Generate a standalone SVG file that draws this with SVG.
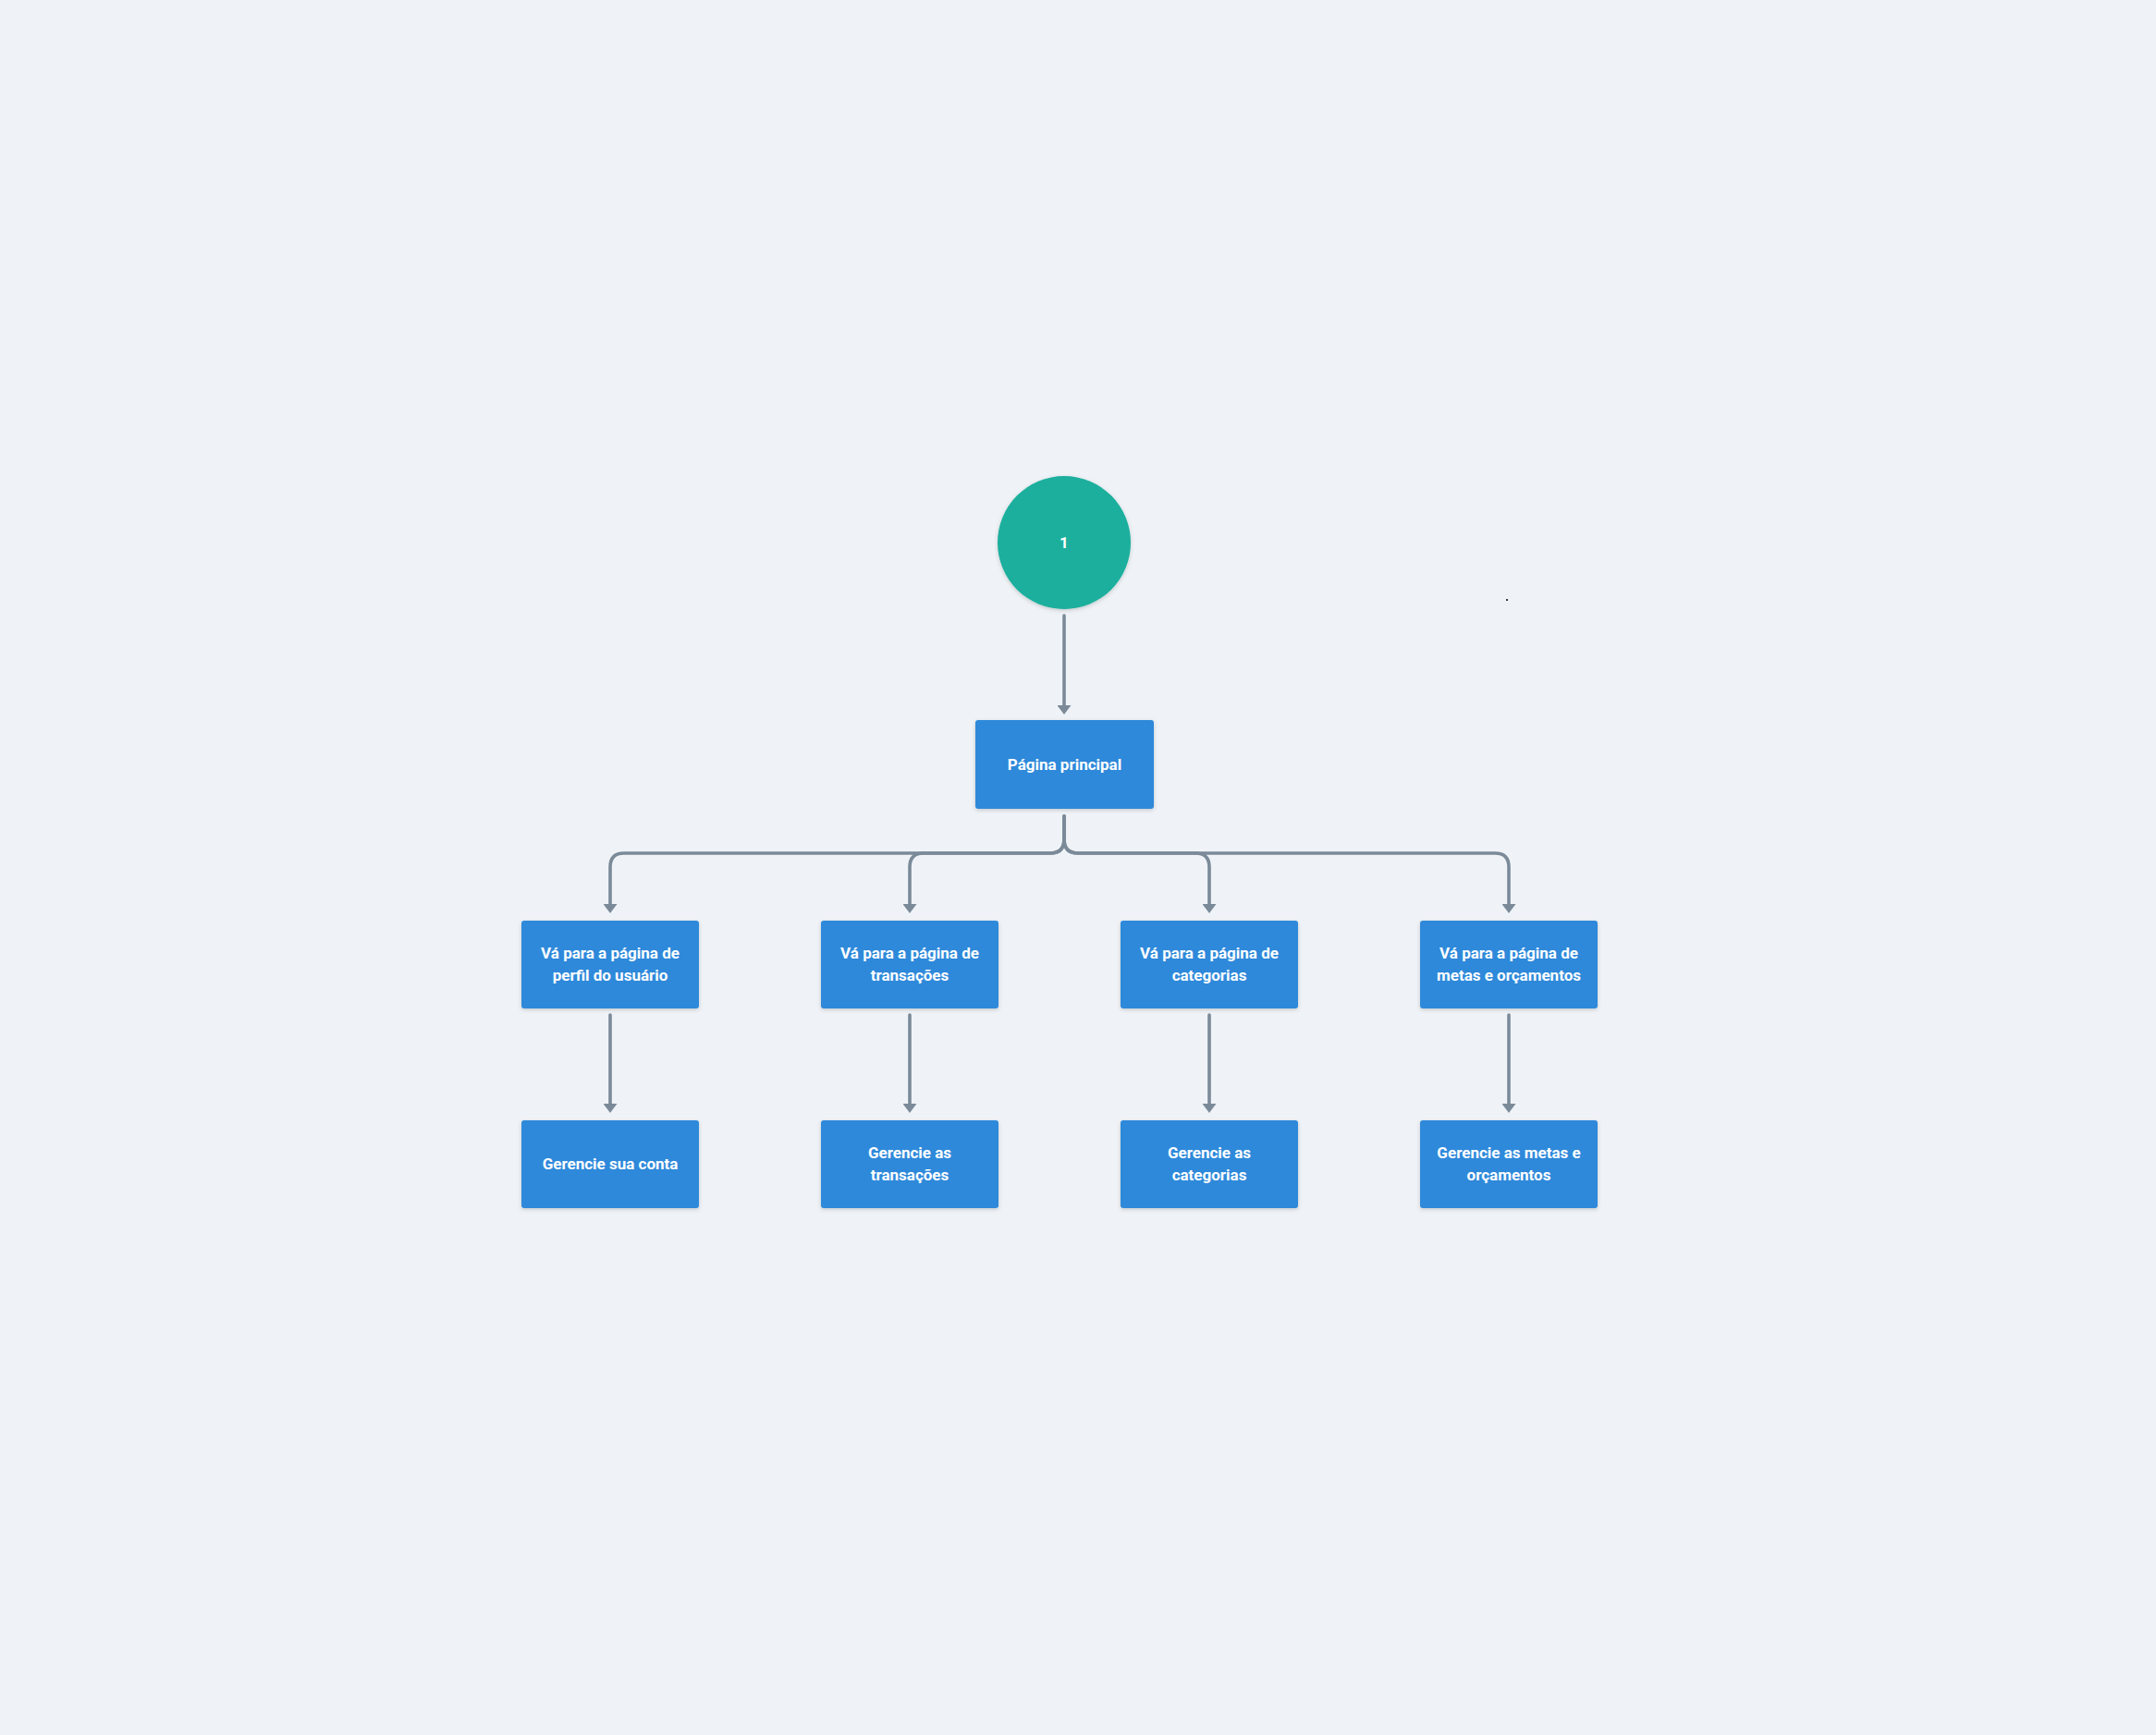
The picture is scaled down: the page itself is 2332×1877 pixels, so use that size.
<svg xmlns="http://www.w3.org/2000/svg" width="2332" height="1877" viewBox="0 0 2332 1877">
<style>
.box{fill:#2d89da;filter:url(#sh)}
.lbl{fill:#ffffff;font-family:Roboto,"Liberation Sans",sans-serif;font-size:17px;font-weight:700;text-anchor:middle;dominant-baseline:central}
.con{fill:none;stroke:#7b8a99;stroke-width:3.6;stroke-linecap:round;marker-end:url(#arr)}
</style>
<defs>
<filter id="sh" x="-10%" y="-10%" width="120%" height="130%">
<feDropShadow dx="0" dy="1.5" stdDeviation="2" flood-color="#000000" flood-opacity="0.18"/>
</filter>
<marker id="arr" markerUnits="userSpaceOnUse" markerWidth="10" markerHeight="15" refX="0" refY="7.5" orient="auto" viewBox="0 0 10 15">
<path d="M0,0 L10,7.5 L0,15 z" fill="#7b8a99"/>
</marker>
</defs>
<rect width="2332" height="1877" fill="#eff3f7"/>
<rect x="1629" y="648" width="2" height="2" fill="#333a40"/>
<g id="connectors">
<path class="con" d="M1151 666 V763"/>
<path class="con" d="M1151 883 V908 Q1151 923 1136 923 H675 Q660 923 660 938 V978"/>
<path class="con" d="M1151 883 V908 Q1151 923 1136 923 H999 Q984 923 984 938 V978"/>
<path class="con" d="M1151 883 V908 Q1151 923 1166 923 H1293 Q1308 923 1308 938 V978"/>
<path class="con" d="M1151 883 V908 Q1151 923 1166 923 H1617 Q1632 923 1632 938 V978"/>
<path class="con" d="M660 1098 V1194"/>
<path class="con" d="M984 1098 V1194"/>
<path class="con" d="M1308 1098 V1194"/>
<path class="con" d="M1632 1098 V1194"/>
</g>
<g id="start">
<circle cx="1151" cy="587" r="72" fill="#1aaf9d" filter="url(#sh)"/>
<text class="lbl" x="1151" y="587">1</text>
</g>
<g id="main">
<rect class="box" x="1055" y="779" width="193" height="96" rx="3"/>
<text class="lbl" x="1151.5" y="827">Página principal</text>
</g>
<g id="perfil">
<rect class="box" x="564" y="996" width="192" height="95" rx="3"/>
<text class="lbl" x="660" y="1031">Vá para a página de</text>
<text class="lbl" x="660" y="1055">perfil do usuário</text>
</g>
<g id="transacoes">
<rect class="box" x="888" y="996" width="192" height="95" rx="3"/>
<text class="lbl" x="984" y="1031">Vá para a página de</text>
<text class="lbl" x="984" y="1055">transações</text>
</g>
<g id="categorias">
<rect class="box" x="1212" y="996" width="192" height="95" rx="3"/>
<text class="lbl" x="1308" y="1031">Vá para a página de</text>
<text class="lbl" x="1308" y="1055">categorias</text>
</g>
<g id="metas">
<rect class="box" x="1536" y="996" width="192" height="95" rx="3"/>
<text class="lbl" x="1632" y="1031">Vá para a página de</text>
<text class="lbl" x="1632" y="1055">metas e orçamentos</text>
</g>
<g id="conta">
<rect class="box" x="564" y="1212" width="192" height="95" rx="3"/>
<text class="lbl" x="660" y="1259">Gerencie sua conta</text>
</g>
<g id="ger-transacoes">
<rect class="box" x="888" y="1212" width="192" height="95" rx="3"/>
<text class="lbl" x="984" y="1247">Gerencie as</text>
<text class="lbl" x="984" y="1271">transações</text>
</g>
<g id="ger-categorias">
<rect class="box" x="1212" y="1212" width="192" height="95" rx="3"/>
<text class="lbl" x="1308" y="1247">Gerencie as</text>
<text class="lbl" x="1308" y="1271">categorias</text>
</g>
<g id="ger-metas">
<rect class="box" x="1536" y="1212" width="192" height="95" rx="3"/>
<text class="lbl" x="1632" y="1247">Gerencie as metas e</text>
<text class="lbl" x="1632" y="1271">orçamentos</text>
</g>
</svg>
